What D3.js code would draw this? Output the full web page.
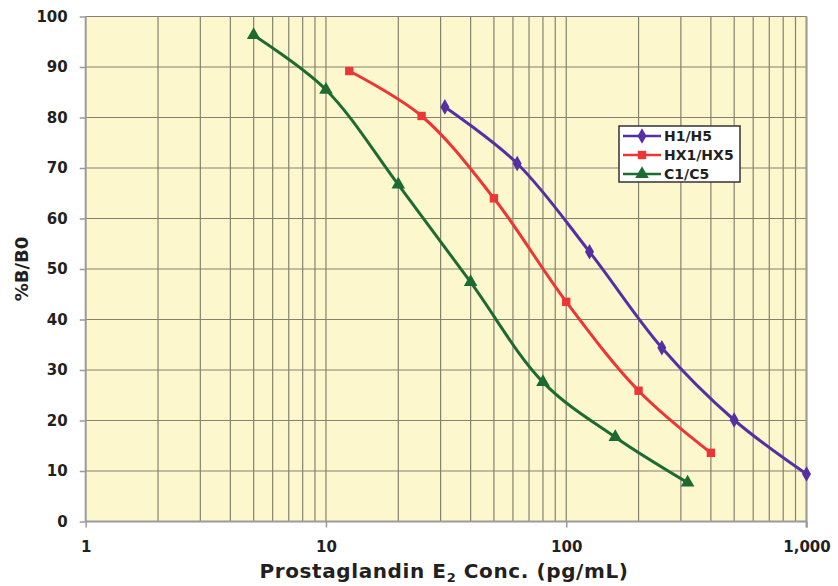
<!DOCTYPE html>
<meta charset="utf-8" />
<style>
  body { margin: 0; background: #fff; }
  text { font-family: "DejaVu Sans", sans-serif; font-weight: 700; fill: #231f20; }
</style>
<body>
  <div id="chart"></div>
  <script src="https://cdn.jsdelivr.net/npm/d3@7"></script>
  <script>
    // standard curves, %B/B0 vs concentration (pg/mL)
    var concH = [31.25, 62.5, 125, 250, 500, 1000];
    var valH = [82.1, 70.9, 53.4, 34.4, 20.1, 9.4];
    var concHX = [12.5, 25, 50, 100, 200, 400];
    var valHX = [89.2, 80.3, 64.0, 43.5, 25.9, 13.6];
    var concC = [5, 10, 20, 40, 80, 160, 320];
    var valC = [96.3, 85.5, 66.7, 47.4, 27.6, 16.7, 7.7];
    var seriesNames = ["H1/H5", "HX1/HX5", "C1/C5"];
    var xTicks = [1, 10, 100, 1000];
    var yTicks = [0, 10, 20, 30, 40, 50, 60, 70, 80, 90, 100];

    var W = 838, H = 586;
    var pL = 85.7, pR = 806.5, pT = 16.5, pB = 521.5;

    var x = d3.scaleLog().domain([1, 1000]).range([pL, pR]);
    var y = d3.scaleLinear().domain([0, 100]).range([pB, pT]);

    var svg = d3.select("#chart").append("svg")
      .attr("width", W).attr("height", H);

    svg.append("rect")
      .attr("x", pL).attr("y", pT)
      .attr("width", pR - pL).attr("height", pB - pT)
      .attr("fill", "#fcf7cd");

    // minor log grid
    var minor = [];
    [1, 10, 100].forEach(function (d) {
      for (var k = 2; k <= 10; k++) minor.push(d * k);
    });
    svg.append("g").selectAll("line").data(minor).enter().append("line")
      .attr("x1", function (d) { return x(d); })
      .attr("x2", function (d) { return x(d); })
      .attr("y1", pT).attr("y2", pB)
      .attr("stroke", "#85826f").attr("stroke-width", 1.2);

    svg.append("g").selectAll("line").data(yTicks.slice(1)).enter().append("line")
      .attr("x1", pL).attr("x2", pR)
      .attr("y1", function (d) { return y(d); })
      .attr("y2", function (d) { return y(d); })
      .attr("stroke", "#85826f").attr("stroke-width", 1.2);

    // right border
    svg.append("line")
      .attr("x1", pR).attr("x2", pR).attr("y1", pT).attr("y2", pB + 6)
      .attr("stroke", "#9a9a9a").attr("stroke-width", 2);

    var yAxis = svg.append("g")
      .attr("transform", "translate(" + pL + ",0)")
      .call(d3.axisLeft(y).tickValues(yTicks).tickSize(6).tickPadding(12));
    var xAxis = svg.append("g")
      .attr("transform", "translate(0," + pB + ")")
      .call(d3.axisBottom(x).tickValues(xTicks).tickSize(6).tickPadding(14)
        .tickFormat(d3.format(",")));
    [xAxis, yAxis].forEach(function (a) {
      a.select(".domain").attr("stroke", "#9a9a9a").attr("stroke-width", 2);
      a.selectAll(".tick line").attr("stroke", "#9a9a9a").attr("stroke-width", 1.5);
      a.selectAll(".tick text").style("font-size", "15px").attr("fill", "#231f20")
        .style("font-family", "DejaVu Sans").style("font-weight", 700);
    });
    yAxis.select(".domain").attr("d", "M0," + pT + "V" + pB);
    xAxis.select(".domain").attr("d", "M" + pL + ",0H" + pR);

    // axis titles
    var xt = svg.append("text")
      .attr("x", 444).attr("y", 578)
      .attr("text-anchor", "middle")
      .style("font-size", "20px")
      .style("letter-spacing", "0.6px");
    xt.append("tspan").text("Prostaglandin E");
    xt.append("tspan").attr("dy", 4).style("font-size", "13px").text("2");
    xt.append("tspan").attr("dy", -4).text(" Conc. (pg/mL)");

    svg.append("text")
      .attr("transform", "translate(28,269) rotate(-90)")
      .attr("text-anchor", "middle")
      .style("font-size", "18px")
      .text("%B/B0");

    var series = [
      { name: seriesNames[0], conc: concH, val: valH, color: "#5530a3", shape: d3.symbolDiamond, size: 70 },
      { name: seriesNames[1], conc: concHX, val: valHX, color: "#ee3536", shape: d3.symbolSquare, size: 70 },
      { name: seriesNames[2], conc: concC, val: valC, color: "#1e6b32", shape: d3.symbolTriangle, size: 80 }
    ];

    var line = d3.line()
      .x(function (d) { return x(d[0]); })
      .y(function (d) { return y(d[1]); })
      .curve(d3.curveCatmullRom.alpha(0.5));

    series.forEach(function (s) {
      var pts = s.conc.map(function (c, i) { return [c, s.val[i]]; });
      svg.append("path")
        .attr("d", line(pts))
        .attr("fill", "none")
        .attr("stroke", s.color)
        .attr("stroke-width", 3);
      svg.append("g").selectAll("path").data(pts).enter().append("path")
        .attr("transform", function (d) { return "translate(" + x(d[0]) + "," + y(d[1]) + ")"; })
        .attr("d", d3.symbol().type(s.shape).size(s.size))
        .attr("fill", s.color);
    });

    // legend
    var lg = svg.append("g").attr("transform", "translate(619,126)");
    lg.append("rect")
      .attr("width", 121).attr("height", 56)
      .attr("fill", "#fff").attr("stroke", "#333").attr("stroke-width", 1.5);
    series.forEach(function (s, i) {
      var g = lg.append("g").attr("transform", "translate(0," + (10 + i * 19) + ")");
      g.append("line").attr("x1", 4).attr("x2", 42)
        .attr("stroke", s.color).attr("stroke-width", 2.5);
      g.append("path").attr("transform", "translate(23,0)")
        .attr("d", d3.symbol().type(s.shape).size(s.size))
        .attr("fill", s.color);
      g.append("text").attr("x", 45).attr("y", 5)
        .style("font-size", "14px").text(s.name);
    });
  </script>
</body>
